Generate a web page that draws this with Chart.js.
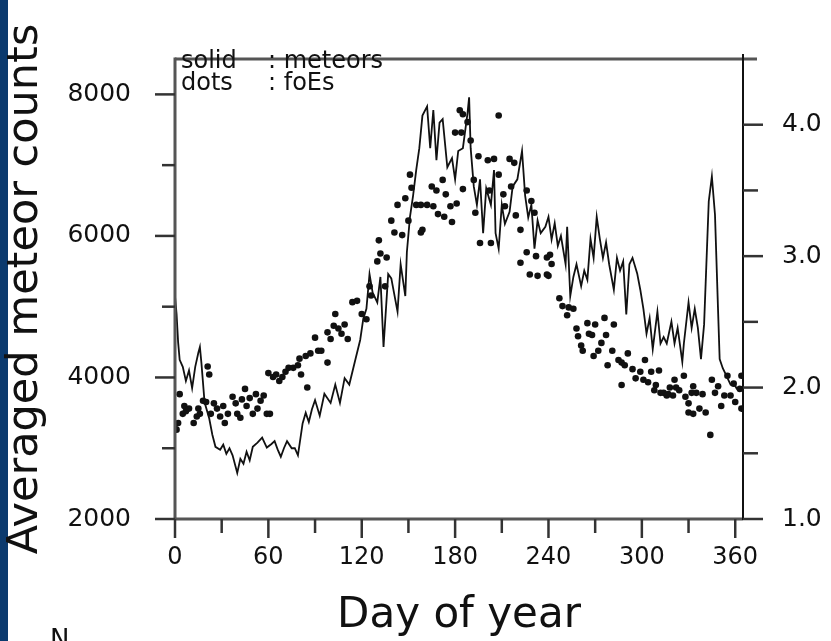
<!DOCTYPE html>
<html>
<head>
<meta charset="utf-8">
<script src="https://cdn.jsdelivr.net/npm/chart.js@4"></script>
<style>
  html, body { margin: 0; padding: 0; background: #fff; }
  canvas { display: block; }
</style>
</head>
<body>
<canvas id="myChart" width="831" height="641"></canvas>
<script>
// meteor counts (solid line, left axis)
let meteorDays = [0, 1, 2, 3, 5, 7, 9, 11, 13, 15, 16, 17, 19, 22, 24, 26, 29, 31, 33, 35, 37, 40, 42, 44, 46, 48, 50, 53, 56, 59, 62, 64, 66, 68, 70, 72, 75, 77, 79, 82, 84, 86, 88, 90, 93, 96, 100, 103, 106, 109, 112, 116, 119, 121, 123, 125, 127, 130, 132, 134, 137, 139, 143, 145, 148, 149, 151, 153, 155, 157, 159, 162, 164, 166, 168, 170, 172, 175, 178, 180, 182, 185, 188, 189, 190, 192, 194, 196, 198, 200, 203, 205, 206, 208, 210, 212, 215, 217, 220, 223, 225, 227, 229, 231, 233, 235, 238, 240, 242, 244, 246, 248, 251, 252, 254, 256, 258, 261, 263, 265, 267, 269, 271, 273, 275, 277, 279, 282, 284, 286, 288, 290, 292, 294, 297, 299, 301, 303, 305, 307, 310, 312, 314, 316, 319, 321, 323, 326, 327, 330, 332, 334, 336, 338, 340, 343, 345, 347, 349, 350, 352, 354, 357, 359, 361, 363, 365];
let meteorCounts = [5150, 4900, 4500, 4250, 4150, 3950, 4100, 3850, 4150, 4350, 4430, 4200, 3650, 3420, 3190, 3020, 2980, 3050, 2920, 3000, 2900, 2650, 2850, 2780, 2950, 2830, 3020, 3080, 3150, 3010, 3060, 3100, 2980, 2880, 3000, 3100, 3000, 3000, 2900, 3350, 3500, 3370, 3550, 3680, 3460, 3770, 3640, 3900, 3640, 3990, 3900, 4260, 4530, 4830, 4970, 5460, 5200, 5060, 5420, 4430, 5460, 5400, 4930, 5600, 5150, 5770, 6270, 6570, 6930, 7240, 7700, 7830, 7240, 7780, 7070, 7600, 7650, 6970, 7100, 6800, 7200, 7240, 7740, 7960, 7240, 6700, 6440, 6800, 6040, 6670, 6440, 6930, 6040, 5820, 6440, 6170, 6340, 6700, 6800, 7200, 6570, 6260, 6440, 5820, 6220, 6040, 6130, 6270, 5950, 6180, 5860, 6000, 5600, 6130, 5150, 5420, 5600, 5290, 5510, 5380, 5960, 5690, 6270, 5960, 5690, 5910, 5600, 5240, 5690, 5510, 5640, 4890, 5600, 5690, 5470, 5240, 4970, 4620, 4840, 4400, 4930, 4480, 4570, 4480, 4790, 4480, 4700, 4220, 4480, 5060, 4700, 4970, 4700, 4260, 4750, 6490, 6840, 6300, 4930, 4260, 4130, 4040, 3900, 3920, 3840, 3820, 3850];

// foEs (dots, right axis)
let foesDays = [0, 1, 2, 3, 5, 6, 7, 9, 12, 14, 15, 16, 18, 20, 21, 22, 23, 25, 27, 29, 31, 32, 34, 37, 39, 40, 42, 43, 45, 46, 48, 50, 52, 53, 55, 57, 59, 60, 61, 63, 65, 67, 69, 71, 73, 76, 79, 80, 81, 84, 85, 87, 90, 92, 94, 98, 98, 100, 102, 103, 105, 107, 109, 111, 114, 117, 120, 123, 125, 126, 130, 131, 132, 135, 136, 139, 141, 143, 146, 148, 150, 151, 152, 155, 158, 158, 159, 162, 165, 166, 168, 169, 172, 173, 174, 177, 178, 180, 181, 183, 184, 185, 185, 188, 190, 192, 193, 195, 196, 201, 202, 203, 205, 208, 208, 211, 212, 215, 216, 218, 219, 222, 222, 226, 226, 228, 229, 231, 232, 233, 239, 239, 240, 241, 242, 247, 249, 252, 253, 256, 258, 259, 261, 262, 265, 266, 268, 269, 270, 272, 274, 276, 277, 278, 281, 282, 285, 287, 287, 289, 291, 294, 296, 299, 301, 302, 304, 306, 308, 309, 311, 312, 314, 316, 317, 318, 320, 321, 322, 324, 327, 328, 330, 330, 332, 333, 333, 335, 337, 339, 341, 344, 345, 347, 349, 351, 353, 355, 357, 359, 360, 363, 364, 364];
let foesValues = [1.72, 1.68, 1.73, 1.95, 1.80, 1.86, 1.82, 1.84, 1.73, 1.78, 1.84, 1.80, 1.90, 1.89, 2.16, 2.10, 1.80, 1.88, 1.84, 1.78, 1.86, 1.73, 1.80, 1.93, 1.88, 1.80, 1.77, 1.91, 1.99, 1.86, 1.92, 1.80, 1.95, 1.84, 1.90, 1.94, 1.80, 2.11, 1.80, 2.08, 2.10, 2.05, 2.08, 2.12, 2.15, 2.15, 2.17, 2.22, 2.10, 2.24, 2.00, 2.26, 2.38, 2.28, 2.28, 2.19, 2.42, 2.37, 2.47, 2.56, 2.45, 2.41, 2.48, 2.37, 2.65, 2.66, 2.56, 2.52, 2.77, 2.70, 2.96, 3.12, 3.02, 2.77, 2.99, 3.27, 3.18, 3.39, 3.16, 3.44, 3.27, 3.62, 3.52, 3.39, 3.39, 3.18, 3.20, 3.39, 3.53, 3.38, 3.50, 3.32, 3.58, 3.30, 3.47, 3.38, 3.26, 3.94, 3.40, 4.11, 3.94, 4.08, 3.51, 4.02, 3.88, 3.58, 3.33, 3.76, 3.10, 3.73, 3.50, 3.10, 3.74, 4.07, 3.62, 3.47, 3.38, 3.74, 3.53, 3.71, 3.31, 3.20, 2.95, 3.50, 3.03, 2.86, 3.42, 3.33, 3.00, 2.85, 2.86, 2.99, 2.85, 3.01, 2.94, 2.68, 2.62, 2.55, 2.61, 2.60, 2.45, 2.39, 2.32, 2.28, 2.49, 2.41, 2.40, 2.24, 2.48, 2.28, 2.34, 2.53, 2.40, 2.17, 2.28, 2.48, 2.21, 2.19, 2.02, 2.17, 2.26, 2.14, 2.07, 2.12, 2.06, 2.21, 2.04, 2.12, 1.98, 2.02, 2.13, 1.96, 1.96, 1.94, 1.95, 2.00, 1.94, 2.06, 2.00, 1.98, 2.09, 1.93, 1.88, 1.81, 1.96, 2.01, 1.80, 1.96, 1.84, 1.95, 1.81, 1.64, 2.06, 1.96, 2.01, 1.86, 1.94, 2.09, 1.94, 2.03, 1.89, 1.99, 1.84, 2.09];

// axis ticks
let xTicks = [0, 30, 60, 90, 120, 150, 180, 210, 240, 270, 300, 330, 360];
let xLabels = [0, 60, 120, 180, 240, 300, 360];
let leftTicks = [2000, 3000, 4000, 5000, 6000, 7000, 8000];
let leftLabels = [2000, 4000, 6000, 8000];
let rightTicks = [1.0, 1.5, 2.0, 2.5, 3.0, 3.5, 4.0];
let rightLabels = [1.0, 2.0, 3.0, 4.0];

const FONT = 'DejaVu Sans';

let frame = {
    id: 'frame',
    beforeDraw(chart) {
        let ctx = chart.ctx;
        ctx.save();
        ctx.fillStyle = '#ffffff';
        ctx.fillRect(0, 0, chart.width, chart.height);
        ctx.fillStyle = '#0b3a6e';
        ctx.fillRect(0, 0, 8, chart.height);
        ctx.restore();
    },
    afterDraw(chart) {
        let ctx = chart.ctx;
        let a = chart.chartArea;
        let {x, y, y2} = chart.scales;
        let line = (x1, y1, x2, y2_) => {
            ctx.beginPath();
            ctx.moveTo(x1, y1);
            ctx.lineTo(x2, y2_);
            ctx.stroke();
        };
        ctx.save();
        ctx.lineCap = 'butt';
        ctx.strokeStyle = '#555';
        ctx.lineWidth = 3;
        line(a.left, a.top, 757, a.top);
        line(a.left, a.top - 1.5, a.left, a.bottom);
        line(a.left, a.bottom, a.right, a.bottom);
        ctx.strokeStyle = '#111';
        ctx.lineWidth = 2;
        line(a.right, a.top - 5, a.right, a.bottom + 1);

        ctx.strokeStyle = '#333';
        ctx.lineWidth = 2.5;
        leftTicks.forEach(v => {
            let p = y.getPixelForValue(v);
            let len = leftLabels.includes(v) ? 20 : 13;
            line(a.left - len, p, a.left, p);
        });
        rightTicks.forEach(v => {
            let p = y2.getPixelForValue(v);
            let len = rightLabels.includes(v) ? 20 : 15;
            line(a.right, p, a.right + len, p);
        });
        xTicks.forEach(v => {
            let p = x.getPixelForValue(v);
            let len = xLabels.includes(v) ? 19 : 14;
            line(p, a.bottom, p, a.bottom + len);
        });

        // legend text inside the frame
        ctx.fillStyle = '#111';
        ctx.font = '24px ' + FONT;
        ctx.textBaseline = 'alphabetic';
        ctx.textAlign = 'left';
        ctx.fillText('solid', 181, 68);
        ctx.fillText(': meteors', 268, 68);
        ctx.fillText('dots', 181, 90);
        ctx.fillText(': foEs', 268, 90);

        // cut off letter at the bottom left
        ctx.font = '26px ' + FONT;
        ctx.textBaseline = 'top';
        ctx.fillText('N', 50, 628);
        ctx.restore();
    }
};

let ctx = document.getElementById('myChart').getContext('2d');

let myChart = new Chart(ctx, {
    data: {
        datasets: [{
            type: 'line',
            label: 'meteors',
            data: meteorDays.map((d, i) => ({x: d, y: meteorCounts[i]})),
            yAxisID: 'y',
            borderColor: '#111',
            borderWidth: 1.8,
            pointRadius: 0,
            tension: 0
        }, {
            type: 'scatter',
            label: 'foEs',
            data: foesDays.map((d, i) => ({x: d, y: foesValues[i]})),
            yAxisID: 'y2',
            backgroundColor: '#111',
            borderWidth: 0,
            pointRadius: 3.3
        }]
    },
    options: {
        responsive: false,
        animation: false,
        layout: {
            padding: {left: 8, top: 33, right: 0, bottom: 0}
        },
        plugins: {
            legend: {display: false},
            tooltip: {enabled: false}
        },
        scales: {
            x: {
                type: 'linear',
                min: 0,
                max: 365,
                grid: {display: false, drawTicks: false},
                border: {display: false},
                afterBuildTicks: (scale) => {
                    scale.ticks = xLabels.map(v => ({value: v}));
                },
                afterFit: (scale) => { scale.height = 122; },
                ticks: {
                    color: '#111',
                    padding: 24,
                    maxRotation: 0,
                    autoSkip: false,
                    font: {family: FONT, size: 24},
                    callback: (value) => String(value)
                },
                title: {
                    display: true,
                    text: 'Day of year',
                    color: '#111',
                    padding: 0,
                    font: {family: FONT, size: 42, lineHeight: 1.2}
                }
            },
            y: {
                position: 'left',
                min: 2000,
                max: 8500,
                grid: {display: false, drawTicks: false},
                border: {display: false},
                afterBuildTicks: (scale) => {
                    scale.ticks = leftLabels.map(v => ({value: v}));
                },
                afterFit: (scale) => { scale.width = 167; },
                ticks: {
                    color: '#111',
                    padding: 44,
                    font: {family: FONT, size: 25},
                    callback: (value) => String(value)
                },
                title: {
                    display: true,
                    text: 'Averaged meteor counts',
                    color: '#111',
                    padding: 0,
                    font: {family: FONT, size: 43, lineHeight: 0.85}
                }
            },
            y2: {
                position: 'right',
                min: 1.0,
                max: 4.5,
                grid: {display: false, drawTicks: false},
                border: {display: false},
                afterBuildTicks: (scale) => {
                    scale.ticks = rightLabels.map(v => ({value: v}));
                },
                afterFit: (scale) => { scale.width = 88; },
                ticks: {
                    color: '#111',
                    padding: 39,
                    font: {family: FONT, size: 25},
                    callback: (value) => value.toFixed(1)
                }
            }
        }
    },
    plugins: [frame]
});
</script>
</body>
</html>
